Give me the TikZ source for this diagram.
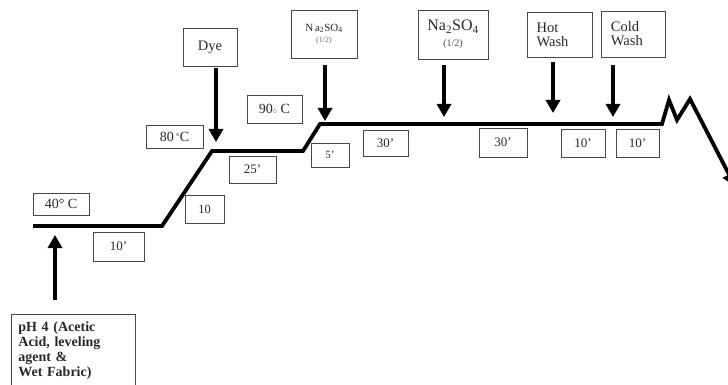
\documentclass[tikz,border=0pt]{standalone}
\usepackage{fontspec}
\setmainfont{Liberation Serif}
\usetikzlibrary{arrows.meta,positioning}
\definecolor{inkgray}{RGB}{70,70,70}
\definecolor{textgray}{RGB}{40,40,40}
\tikzset{
  tag/.style={draw=inkgray,line width=0.8pt,inner sep=1pt,align=center,text=textgray,font=\fontsize{14}{15}\selectfont},
  temp/.style={tag},
  dur/.style={tag,font=\fontsize{13}{14}\selectfont},
  feed/.style={tag,font=\fontsize{14.5}{14}\selectfont},
  profile/.style={line width=3.8pt,line join=miter},
  drop/.style={-{Triangle[width=14pt,length=13pt]},line width=4pt}
}

\begin{document}
\begin{tikzpicture}[x=1pt,y=-1pt]
  \useasboundingbox (0,0) rectangle (728,385);
  % temperature profile
  \draw[profile,-{Triangle[width=14pt,length=13pt]}] (33,226) -- (162,226) -- (212,151) -- (303,151) -- (320,124)
    -- (662,124) -- (669,100) -- (677,120) -- (690,99) -- (735,186);
  % temperatures
  \node[temp,minimum width=56pt,minimum height=22pt] (temp40) at (61,204) {40° C};
  \node[temp,minimum width=57pt,minimum height=23pt] (temp80) at (174.5,136.5) {80\,{\raisebox{1.5pt}{\fontsize{9}{9}\selectfont°}}C};
  \node[temp,minimum width=55pt,minimum height=28pt] (temp90) at (274.5,109) {90{\fontsize{8}{8}\selectfont$\circ$} C};
  % durations
  \node[dur,minimum width=51pt,minimum height=29pt] (dur10a) at (118.5,246.5) {10’};
  \node[dur,minimum width=39pt,minimum height=28pt,font=\fontsize{12.5}{13}\selectfont] (ramp10) at (204.5,209) {10};
  \node[dur,minimum width=47pt,minimum height=27pt] (dur25) at (252.5,169.5) {25’};
  \node[dur,minimum width=38pt,minimum height=24pt,font=\fontsize{11}{12}\selectfont] (dur5) at (330,155) {5’};
  \node[dur,minimum width=45pt,minimum height=26pt] (dur30a) at (385.5,143) {30’};
  \node[dur,minimum width=48pt,minimum height=29pt] (dur30b) at (503,142.5) {30’};
  \node[dur,minimum width=44pt,minimum height=28pt] (dur10b) at (583,143) {10’};
  \node[dur,minimum width=43pt,minimum height=28pt] (dur10c) at (637.5,143) {10’};
  % additions
  \node[feed,minimum width=54pt,minimum height=38pt] (dye) at (210,47) {Dye};
  \node[feed,minimum width=66pt,minimum height=48pt,font=\fontsize{11}{13}\selectfont] (salt1) at (324,34)
    {N\,a\textsubscript{2}SO\textsubscript{4}\\[-2pt]{\fontsize{8}{9}\selectfont\color{black!60}(1/2)}};
  \node[feed,minimum width=70pt,minimum height=49pt,font=\fontsize{16}{17}\selectfont] (salt2) at (453,34.5)
    {Na\textsubscript{2}SO\textsubscript{4}\\[-1pt]{\fontsize{10}{11}\selectfont\color{black!70}(1/2)}};
  \node[feed,minimum width=65pt,minimum height=45pt,align=left] (hot) at (559.5,34.5) {Hot\hspace*{24pt}\\Wash\hspace*{10pt}};
  \node[feed,minimum width=64pt,minimum height=46pt,align=left] (cold) at (633,34) {Cold\hspace*{16pt}\\Wash\hspace*{10pt}};
  \node[tag,anchor=north west,text width=110pt,align=left,
    inner xsep=7pt,inner ysep=7pt,font=\fontsize{14}{15}\selectfont\bfseries] (wet) at (11,314)
    {pH 4 (Acetic\\Acid, leveling\\agent \&\\Wet Fabric)\\[4pt]};
  % feed points on the profile
  \coordinate (pDye) at (216,142);
  \coordinate (pSalt1) at (325,121);
  \coordinate (pSalt2) at (444,117);
  \coordinate (pHot) at (553,113);
  \coordinate (pCold) at (613,117);
  \coordinate (pWet) at (55,235);
  \draw[drop,shorten <=2pt] (dye.south -| pDye) -- (pDye);
  \draw[drop,shorten <=7pt] (salt1.south -| pSalt1) -- (pSalt1);
  \draw[drop,shorten <=6pt] (salt2.south -| pSalt2) -- (pSalt2);
  \draw[drop,shorten <=5pt] (hot.south -| pHot) -- (pHot);
  \draw[drop,shorten <=8pt] (cold.south -| pCold) -- (pCold);
  \draw[drop,shorten <=14pt] (wet.north -| pWet) -- (pWet);
\end{tikzpicture}
\end{document}
